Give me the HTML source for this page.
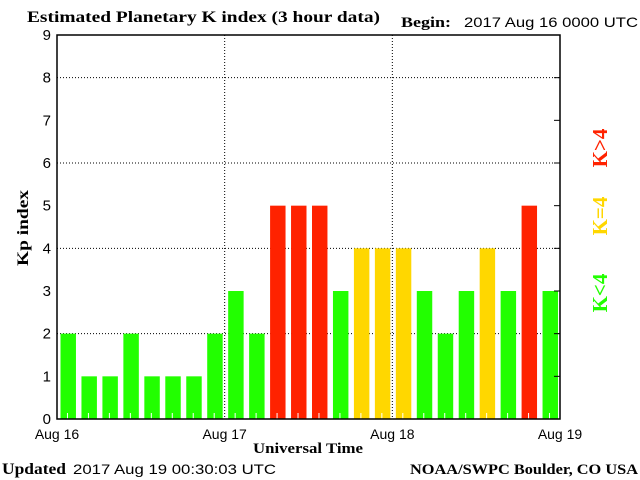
<!DOCTYPE html>
<html><head><meta charset="utf-8"><style>
body{margin:0;background:#fff;width:640px;height:480px;overflow:hidden}
svg{display:block}
.serif{font-family:"Liberation Serif",serif;font-weight:bold}
.sans{font-family:"Liberation Sans",sans-serif}
</style></head><body>
<svg id="chart" width="640" height="480">
<text x="27" y="22" class="serif" font-size="16" textLength="353" lengthAdjust="spacingAndGlyphs">Estimated Planetary K index (3 hour data)</text>
<text x="401" y="27" class="serif" font-size="15" textLength="50" lengthAdjust="spacingAndGlyphs">Begin:</text>
<text x="464" y="27" class="sans" font-size="14" textLength="174" lengthAdjust="spacingAndGlyphs">2017 Aug 16 0000 UTC</text>
<text x="2" y="474" class="serif" font-size="16" textLength="64" lengthAdjust="spacingAndGlyphs">Updated</text>
<text x="73" y="474" class="sans" font-size="14" textLength="203" lengthAdjust="spacingAndGlyphs">2017 Aug 19 00:30:03 UTC</text>
<text x="410" y="474" class="serif" font-size="15" textLength="228" lengthAdjust="spacingAndGlyphs">NOAA/SWPC Boulder, CO USA</text>
<text x="253" y="453" class="serif" font-size="15" textLength="110" lengthAdjust="spacingAndGlyphs">Universal Time</text>
<text transform="translate(28,266) rotate(-90)" class="serif" font-size="16" textLength="76" lengthAdjust="spacingAndGlyphs">Kp index</text>
<text transform="translate(607,148) rotate(-90)" text-anchor="middle" class="serif" font-size="21" fill="#ff2200">K&gt;4</text>
<text transform="translate(607,216) rotate(-90)" text-anchor="middle" class="serif" font-size="21" fill="#ffd700">K=4</text>
<text transform="translate(607,293) rotate(-90)" text-anchor="middle" class="serif" font-size="21" fill="#22ff00">K&lt;4</text>
<g id="plot"></g>
</svg>
<script>
const kpValues=[2,1,1,2,1,1,1,2, 3,2,5,5,5,3,4,4, 4,3,2,3,4,3,5,3];
const dayLabels=["Aug 16","Aug 17","Aug 18","Aug 19"];
const yTicks=[0,1,2,3,4,5,6,7,8,9];
const L=57,R=560,T=35,B=419;
const xs=i=>L+(R-L)*i/24;
const ys=v=>B-(B-T)*v/9;
const ns="http://www.w3.org/2000/svg";
const g=document.getElementById('plot');
function mk(t,a){const e=document.createElementNS(ns,t);for(const k in a)e.setAttribute(k,a[k]);g.appendChild(e);return e;}
[2,4,6,8].forEach(v=>{const e=mk('line',{x1:L,x2:R,y1:ys(v),y2:ys(v),stroke:'#000','stroke-dasharray':'1,2'});

});
[1,2].forEach(d=>{const e=mk('line',{x1:xs(d*8),x2:xs(d*8),y1:T,y2:B,stroke:'#000','stroke-dasharray':'1,2'});

});
kpValues.forEach((v,i)=>{
 const c=v>4?'#ff2200':(v==4?'#ffd700':'#22ff00');
 const w=(R-L)/24;
 const b=mk('rect',{x:xs(i)+3.5,y:ys(v),width:w-5.5,height:B-ys(v),fill:c});
 
 
 const t=mk('line',{x1:xs(i)+w/2,x2:xs(i)+w/2,y1:B-6,y2:B,stroke:'#fff'});
 
 
});
const f=mk('rect',{x:L,y:T,width:R-L,height:B-T,fill:'none',stroke:'#000','stroke-width':1.5});


yTicks.forEach(v=>{
 const t=mk('text',{x:L-6,y:ys(v)+5,'text-anchor':'end','font-family':'Liberation Sans, sans-serif','font-size':15});
 t.textContent=v;
 
 
 const k=mk('line',{x1:R-6,x2:R,y1:ys(v),y2:ys(v),stroke:'#000'});
 
 
});
dayLabels.forEach((d,i)=>{
 const t=mk('text',{x:xs(i*8),y:439,'text-anchor':'middle','font-family':'Liberation Sans, sans-serif','font-size':14});
 t.textContent=d;
 
 
});
</script>
</body></html>
